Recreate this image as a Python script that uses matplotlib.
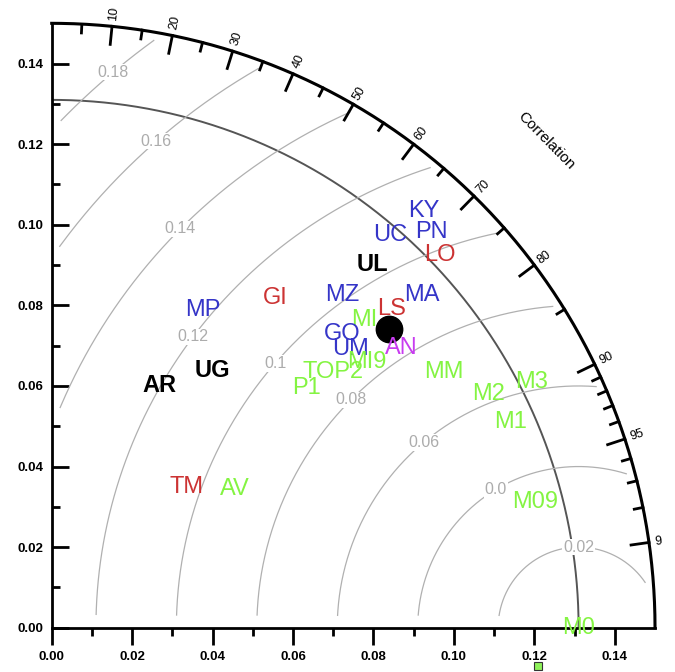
import numpy as np
import matplotlib
matplotlib.use("Agg")
import matplotlib.pyplot as plt

plt.rcParams['font.family'] = ['Liberation Sans', 'DejaVu Sans']

# Model labels: standard deviation and correlation with the reference
labels = ['KY', 'UC', 'PN', 'LO', 'UL', 'MA', 'MZ', 'GI', 'MP', 'LS', 'MI',
          'GO', 'UM', 'AN', 'MI9', 'TOP2', 'P1', 'MM', 'M2', 'M3', 'M1',
          'M09', 'M0', 'UG', 'AR', 'TM', 'AV']
std = [0.1388, 0.1287, 0.1363, 0.1337, 0.1203, 0.1236, 0.1096, 0.0988,
       0.0874, 0.1158, 0.1090, 0.1026, 0.1015, 0.1112, 0.1024, 0.0945,
       0.0869, 0.1163, 0.1232, 0.1340, 0.1249, 0.1241, 0.1309, 0.0753,
       0.0659, 0.0485, 0.0572]
corr = [0.666, 0.653, 0.693, 0.722, 0.663, 0.744, 0.658, 0.562, 0.431,
        0.730, 0.714, 0.703, 0.731, 0.782, 0.765, 0.741, 0.730, 0.838,
        0.882, 0.890, 0.913, 0.968, 1.000, 0.531, 0.408, 0.693, 0.797]
groups = ['blue', 'blue', 'blue', 'red', 'black', 'blue', 'blue', 'red',
          'blue', 'red', 'green', 'blue', 'blue', 'magenta', 'green', 'green',
          'green', 'green', 'green', 'green', 'green', 'green', 'green',
          'black', 'black', 'red', 'green']

# big black dot (ensemble) and the small green square
dot_std, dot_corr = 0.1119, 0.750
square_x, square_y = 0.121, -0.0095

ref_std = 0.131
rms_levels = [0.02, 0.04, 0.06, 0.08, 0.10, 0.12, 0.14, 0.16, 0.18]
rms_texts = ['0.02', '0.0', '0.06', '0.08', '0.1', '0.12', '0.14', '0.16', '0.18']
rms_label_ang = [90, 121, 130, 135, 139, 143, 135, 131, 130]

corr_major = [0.1, 0.2, 0.3, 0.4, 0.5, 0.6, 0.7, 0.8, 0.9, 0.95, 0.99]
corr_major_txt = ['10', '20', '30', '40', '50', '60', '70', '80', '90', '95', '9']
corr_minor = [0.05, 0.15, 0.25, 0.35, 0.45, 0.55, 0.65, 0.75, 0.85,
              0.91, 0.92, 0.93, 0.94, 0.96, 0.97, 0.98]

colors = {'blue': '#3535c8', 'red': '#cc3333', 'green': '#84f442',
          'black': 'black', 'magenta': '#c83cf0'}

rmax = 0.15

fig = plt.figure(figsize=(6.75, 6.72), dpi=100)
ax = fig.add_axes([0.0766, 0.0659, 0.8938, 0.8994])
ax.set_xlim(0, rmax)
ax.set_ylim(0, rmax)

for s in ['top', 'right']:
    ax.spines[s].set_visible(False)
for s in ['left', 'bottom']:
    ax.spines[s].set_linewidth(2)

ax.set_xticks(np.arange(0, 0.141, 0.02))
ax.set_yticks(np.arange(0, 0.141, 0.02))
ax.set_xticks(np.arange(0.01, 0.15, 0.02), minor=True)
ax.set_yticks(np.arange(0.01, 0.15, 0.02), minor=True)
ax.set_xticklabels(['%.2f' % v for v in np.arange(0, 0.141, 0.02)])
ax.set_yticklabels(['%.2f' % v for v in np.arange(0, 0.141, 0.02)])
ax.tick_params(axis='x', which='major', direction='out', length=12, width=2, pad=5)
ax.tick_params(axis='x', which='minor', direction='out', length=6, width=2)
ax.tick_params(axis='y', which='major', direction='in', length=12, width=2, pad=6)
ax.tick_params(axis='y', which='minor', direction='in', length=6, width=2)
for lab in ax.get_xticklabels() + ax.get_yticklabels():
    lab.set_fontsize(9.5)
    lab.set_fontweight('bold')

# outer arc
th = np.linspace(0, np.pi / 2, 300)
ax.plot(rmax * np.cos(th), rmax * np.sin(th), color='black', lw=2.2, clip_on=False)
# reference std arc
ax.plot(ref_std * np.cos(th), ref_std * np.sin(th), color='#555555', lw=1.4)

# centred RMS circles
phi = np.linspace(0, np.pi, 800)
for lev, txt, ang in zip(rms_levels, rms_texts, rms_label_ang):
    cx = ref_std + lev * np.cos(phi)
    cy = lev * np.sin(phi)
    ok = (np.hypot(cx, cy) < 0.148) & (cy > 0.003) & (cx > 0.002)
    cx = np.where(ok, cx, np.nan)
    cy = np.where(ok, cy, np.nan)
    ax.plot(cx, cy, color='#b0b0b0', lw=0.9)
    a = np.deg2rad(ang)
    ax.text(ref_std + lev * np.cos(a), lev * np.sin(a), txt, color='#acacac',
            fontsize=11.5, ha='center', va='center',
            bbox=dict(facecolor='white', edgecolor='none', pad=0.5))

# correlation ticks
for c in corr_major:
    t = np.arccos(c)
    ax.plot([rmax * np.cos(t), (rmax - 0.0045) * np.cos(t)],
            [rmax * np.sin(t), (rmax - 0.0045) * np.sin(t)], color='black', lw=2)
for c in corr_minor:
    t = np.arccos(c)
    ax.plot([rmax * np.cos(t), (rmax - 0.0022) * np.cos(t)],
            [rmax * np.sin(t), (rmax - 0.0022) * np.sin(t)], color='black', lw=2)
for c, txt in zip(corr_major, corr_major_txt):
    t = np.arccos(c)
    ax.text(0.1515 * np.cos(t), 0.1515 * np.sin(t), txt, fontsize=9,
            rotation=np.rad2deg(t), rotation_mode='anchor', ha='left', va='center',
            clip_on=False)
tc = np.deg2rad(44.5)
ax.text(0.1725 * np.cos(tc), 0.1725 * np.sin(tc), 'Correlation', fontsize=11,
        rotation=np.rad2deg(tc) - 90, ha='center', va='center', rotation_mode='anchor')

# model labels
for lab, s, c, g in zip(labels, std, corr, groups):
    t = np.arccos(c)
    ax.text(s * np.cos(t), s * np.sin(t), lab, color=colors[g], fontsize=17,
            fontweight='bold' if g == 'black' else 'normal',
            ha='center', va='center', clip_on=False)

t = np.arccos(dot_corr)
ax.plot(dot_std * np.cos(t), dot_std * np.sin(t), 'o', color='black', ms=19)
ax.plot(square_x, square_y, 's', color='#8ef25a', mec='#333333', mew=0.8,
        ms=6, clip_on=False)

fig.savefig('out.png', dpi=100)
